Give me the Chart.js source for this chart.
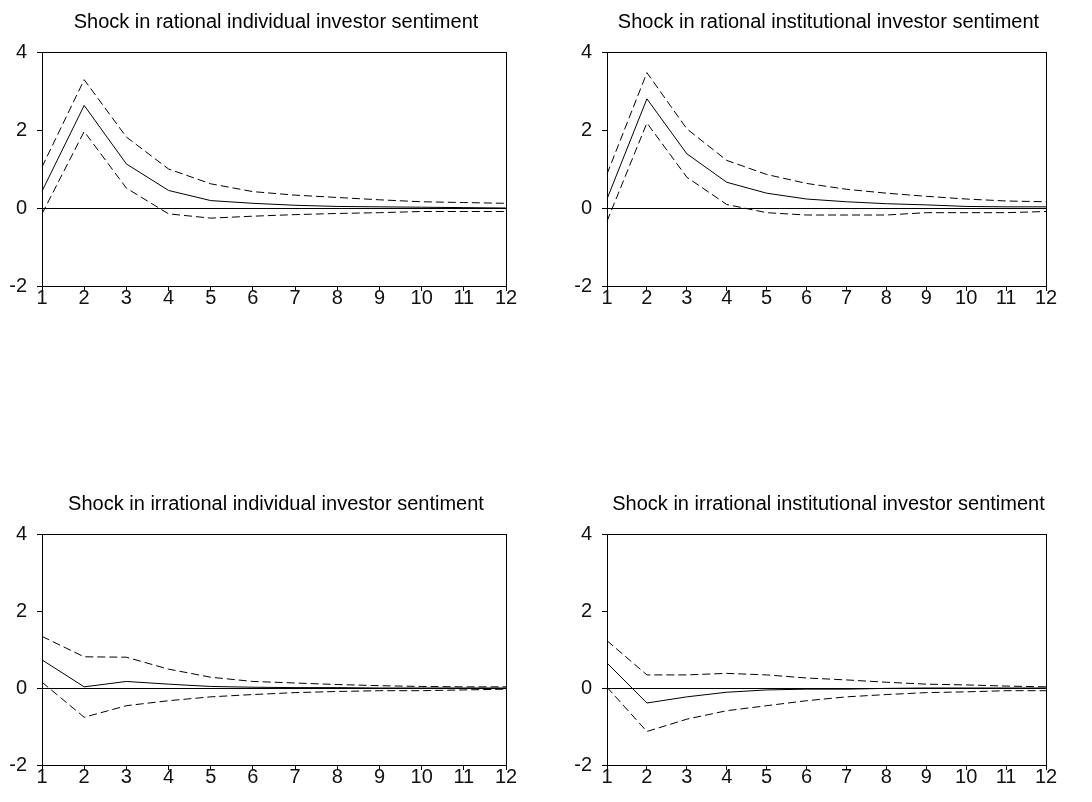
<!DOCTYPE html>
<html>
<head>
<meta charset="utf-8">
<script src="https://cdn.jsdelivr.net/npm/chart.js@4.4.0/dist/chart.umd.min.js"></script>
<style>
  html, body { margin: 0; padding: 0; background: #fff; }
  canvas { position: absolute; }
</style>
</head>
<body>
<canvas id="c1" width="546" height="320" style="left:0;top:0"></canvas>
<canvas id="c2" width="546" height="320" style="left:546px;top:0"></canvas>
<canvas id="c3" width="546" height="342" style="left:0;top:460px"></canvas>
<canvas id="c4" width="546" height="342" style="left:546px;top:460px"></canvas>
<script>
// periods after the shock
const periods = ['1', '2', '3', '4', '5', '6', '7', '8', '9', '10', '11', '12'];
const yTicks = [-2, 0, 2, 4];

// shock in rational individual investor sentiment
const ratIndResp  = [0.43, 2.63, 1.13, 0.45, 0.19, 0.12, 0.07, 0.04, 0.03, 0.02, 0.01, 0.00];
const ratIndUpper = [1.05, 3.29, 1.82, 1.00, 0.62, 0.42, 0.33, 0.27, 0.21, 0.16, 0.14, 0.12];
const ratIndLower = [-0.15, 1.96, 0.51, -0.15, -0.26, -0.21, -0.17, -0.14, -0.12, -0.09, -0.09, -0.09];

// shock in rational institutional investor sentiment
const ratInsResp  = [0.23, 2.80, 1.39, 0.66, 0.38, 0.23, 0.16, 0.11, 0.08, 0.04, 0.03, 0.03];
const ratInsUpper = [0.87, 3.47, 2.03, 1.22, 0.86, 0.63, 0.48, 0.38, 0.30, 0.23, 0.18, 0.16];
const ratInsLower = [-0.34, 2.18, 0.79, 0.09, -0.12, -0.18, -0.18, -0.18, -0.12, -0.12, -0.12, -0.09];

// shock in irrational individual investor sentiment
const irrIndResp  = [0.73, 0.03, 0.17, 0.10, 0.04, 0.02, 0.01, 0.01, 0.00, 0.00, 0.00, 0.00];
const irrIndUpper = [1.34, 0.81, 0.80, 0.49, 0.28, 0.17, 0.13, 0.09, 0.06, 0.04, 0.03, 0.03];
const irrIndLower = [0.15, -0.76, -0.46, -0.33, -0.23, -0.17, -0.12, -0.09, -0.07, -0.07, -0.05, -0.03];

// shock in irrational institutional investor sentiment
const irrInsResp  = [0.65, -0.39, -0.23, -0.11, -0.05, -0.03, -0.03, -0.01, 0.00, 0.00, 0.00, 0.00];
const irrInsUpper = [1.23, 0.34, 0.34, 0.38, 0.34, 0.26, 0.21, 0.15, 0.10, 0.08, 0.05, 0.03];
const irrInsLower = [0.02, -1.13, -0.81, -0.59, -0.46, -0.33, -0.23, -0.17, -0.12, -0.10, -0.07, -0.07];

Chart.defaults.font.family = '"Liberation Sans", Arial, sans-serif';
Chart.defaults.font.size = 20;
Chart.defaults.color = '#111';

// frame round the plot area, zero line and the panel title
const framePlugin = {
    id: 'frame',
    beforeDatasetsDraw(chart) {
        const ctx = chart.ctx;
        const a = chart.chartArea;
        const y0 = Math.round(chart.scales.y.getPixelForValue(0)) + 0.5;
        ctx.save();
        ctx.strokeStyle = '#000';
        ctx.lineWidth = 1;
        ctx.strokeRect(Math.round(a.left) + 0.5, Math.round(a.top) + 0.5,
                       Math.round(a.right - a.left), Math.round(a.bottom - a.top));
        ctx.beginPath();
        ctx.moveTo(a.left, y0);
        ctx.lineTo(a.right, y0);
        ctx.stroke();
        ctx.restore();
    },
    afterDraw(chart, args, opts) {
        const ctx = chart.ctx;
        const a = chart.chartArea;
        ctx.save();
        ctx.fillStyle = '#000';
        ctx.font = '20px "Liberation Sans", Arial, sans-serif';
        ctx.textAlign = 'center';
        ctx.textBaseline = 'alphabetic';
        ctx.fillText(opts.text, (a.left + a.right) / 2 + 2, a.top - 24);
        ctx.restore();
    }
};

function drawPanel(canvasId, title, resp, upper, lower, axisWidth, padRight, padTop, padBottom) {
    const canvas = document.getElementById(canvasId);
    const line = (data, dash) => ({
        data: data,
        borderColor: '#000',
        borderWidth: 1,
        borderDash: dash,
        pointRadius: 0,
        tension: 0,
        fill: false
    });

    new Chart(canvas, {
        type: 'line',
        data: {
            labels: periods,
            datasets: [line(upper, [8, 4]), line(resp, []), line(lower, [8, 4])]
        },
        options: {
            responsive: false,
            animation: false,
            events: [],
            layout: { padding: { left: 0, right: padRight, top: padTop, bottom: padBottom } },
            plugins: {
                legend: { display: false },
                tooltip: { enabled: false },
                frame: { text: title }
            },
            scales: {
                x: {
                    grid: { drawOnChartArea: false, drawTicks: true, tickLength: 5, tickColor: '#000' },
                    border: { display: false },
                    ticks: { padding: -5, maxRotation: 0, autoSkip: false, color: '#111' },
                    afterFit: s => { s.height = 34; }
                },
                y: {
                    min: -2,
                    max: 4,
                    afterBuildTicks: s => { s.ticks = yTicks.map(v => ({ value: v })); },
                    grid: { drawOnChartArea: false, drawTicks: true, tickLength: 5, tickColor: '#000' },
                    border: { display: false },
                    ticks: { padding: 10, color: '#111' },
                    afterFit: s => { s.width = axisWidth; }
                }
            }
        },
        plugins: [framePlugin]
    });
}

drawPanel('c1', 'Shock in rational individual investor sentiment', ratIndResp, ratIndUpper, ratIndLower, 42, 40, 52, 0);
drawPanel('c2', 'Shock in rational institutional investor sentiment', ratInsResp, ratInsUpper, ratInsLower, 61, 46, 52, 0);
drawPanel('c3', 'Shock in irrational individual investor sentiment', irrIndResp, irrIndUpper, irrIndLower, 42, 40, 74, 3);
drawPanel('c4', 'Shock in irrational institutional investor sentiment', irrInsResp, irrInsUpper, irrInsLower, 61, 46, 74, 3);
</script>
</body>
</html>
